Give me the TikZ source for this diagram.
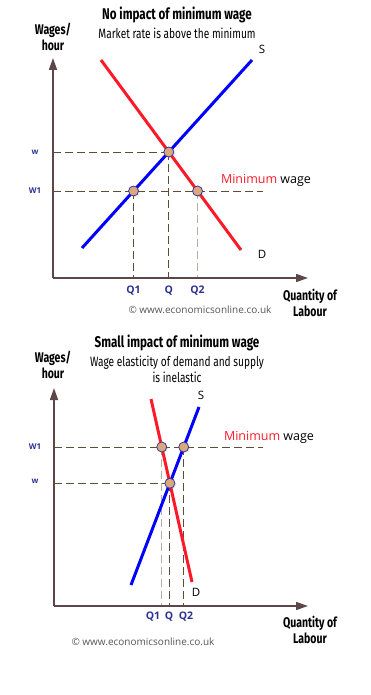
\documentclass[tikz,border=0pt]{standalone}
\usepackage{fontspec}
\setmainfont{Open Sans}
\newfontfamily\condfont[FakeStretch=0.75]{Fira Sans}
\usetikzlibrary{arrows.meta,shadows}
\definecolor{axiscol}{RGB}{92,70,72}
\definecolor{guidecol}{RGB}{95,75,55}
\definecolor{qcol}{RGB}{46,49,146}
\definecolor{dotfill}{RGB}{219,168,120}
\definecolor{dotedge}{RGB}{55,55,165}
\definecolor{supplycol}{RGB}{0,0,255}
\definecolor{demandcol}{RGB}{255,25,40}
\definecolor{webcol}{RGB}{85,85,85}
\tikzset{
  axis/.style={draw=axiscol,line width=1.6pt,-{Triangle[length=12pt,width=8pt]}},
  guide/.style={draw=guidecol,line width=0.9pt,dash pattern=on 8pt off 4pt},
  faintguide/.style={guide,draw=guidecol!45},
  supply/.style={draw=supplycol,line width=3pt},
  demand/.style={draw=demandcol,line width=3pt},
  dot/.style={circle,draw=dotedge,fill=dotfill,line width=0.8pt,minimum size=10pt,inner sep=0pt,
    drop shadow={opacity=0.18,shadow xshift=1.2pt,shadow yshift=-1.2pt}},
  headline/.style={font=\condfont\bfseries\fontsize{15.5}{17}\selectfont},
  subline/.style={font=\condfont\fontsize{13.5}{16}\selectfont,align=center},
  axlabel/.style={font=\condfont\bfseries\fontsize{14}{15.5}\selectfont,align=center},
  curvelabel/.style={font=\fontsize{11.5}{13}\selectfont},
  minlabel/.style={font=\fontsize{12.5}{14}\selectfont},
  qlabel/.style={font=\bfseries\fontsize{10.5}{12}\selectfont,text=qcol},
  wlabel/.style={font=\bfseries\fontsize{8}{9}\selectfont,text=qcol},
  weblabel/.style={font=\fontsize{10}{12}\selectfont,text=webcol}
}

\begin{document}
\begin{tikzpicture}[x=1pt,y=-1pt]
    \useasboundingbox (0,0) rectangle (371,695);
    % top chart
    \node[headline] (title1) at (177,15) {No impact of minimum wage};
    \node[subline] (sub1) at (177,33) {Market rate is above the minimum};
    \node[axlabel] (wages1) at (53,37) {Wages/\\hour};
    \coordinate (o1) at (53,278);
    \coordinate (ytop1) at (53,58);
    \coordinate (xend1) at (308,278);
    \coordinate (s1a) at (82,248);
    \coordinate (s1b) at (252,60);
    \coordinate (d1a) at (101,60);
    \coordinate (d1b) at (241,250);
    \coordinate (m1a) at (53,191);
    \coordinate (m1b) at (263,191);
    \coordinate (e1) at (intersection of s1a--s1b and d1a--d1b);
    \coordinate (lo1) at (intersection of s1a--s1b and m1a--m1b);
    \coordinate (hi1) at (intersection of d1a--d1b and m1a--m1b);
    \draw[guide] (m1a) -- (m1b);
    \draw[guide] (o1 |- e1) -- (e1);
    \draw[guide] (e1) -- (e1 |- o1);
    \draw[guide] (lo1) -- (lo1 |- o1);
    \draw[faintguide] (hi1) -- (hi1 |- o1);
    \draw[axis] (o1) -- (ytop1);
    \draw[axis] (o1) -- (xend1);
    \draw[supply] (s1a) -- (s1b);
    \draw[demand] (d1a) -- (d1b);
    \node[dot] (pe1) at (e1) {};
    \node[dot] (plo1) at (lo1) {};
    \node[dot] (phi1) at (hi1) {};
    \node[curvelabel] (slab1) at (262,49) {S};
    \node[curvelabel] (dlab1) at (262,254) {D};
    \node[minlabel] (min1) at (266,180) {\textcolor{demandcol}{Minimum} wage};
    \node[wlabel] (w1) at (35,152) {w};
    \node[wlabel] (ww1) at (35,191) {W1};
    \node[qlabel] (q11) at (lo1 |- 0,291) {Q1};
    \node[qlabel] (q1) at (e1 |- 0,291) {Q};
    \node[qlabel] (q21) at (hi1 |- 0,291) {Q2};
    \node[axlabel] (qty1) at (310,303) {Quantity of\\Labour};
    \node[weblabel] (web1) at (200,310) {\textcopyright{} www.economicsonline.co.uk};
    % bottom chart
    \node[headline] (title2) at (177,343) {Small impact of minimum wage};
    \node[subline] (sub2) at (177,369) {Wage elasticity of demand and supply\\is inelastic};
    \node[axlabel] (wages2) at (53,365) {Wages/\\hour};
    \coordinate (o2) at (54,606);
    \coordinate (ytop2) at (54,388);
    \coordinate (xend2) at (308,606);
    \coordinate (s2a) at (131,585);
    \coordinate (s2b) at (199,407);
    \coordinate (d2a) at (151,399);
    \coordinate (d2b) at (192,582);
    \coordinate (m2a) at (54,447);
    \coordinate (m2b) at (263,447);
    \coordinate (e2) at (intersection of s2a--s2b and d2a--d2b);
    \coordinate (lo2) at (intersection of d2a--d2b and m2a--m2b);
    \coordinate (hi2) at (intersection of s2a--s2b and m2a--m2b);
    \draw[guide] (m2a) -- (m2b);
    \draw[guide] (o2 |- e2) -- (e2);
    \draw[guide] (e2) -- (e2 |- o2);
    \draw[faintguide] (lo2) -- (lo2 |- o2);
    \draw[guide] (hi2) -- (hi2 |- o2);
    \draw[axis] (o2) -- (ytop2);
    \draw[axis] (o2) -- (xend2);
    \draw[supply] (s2a) -- (s2b);
    \draw[demand] (d2a) -- (d2b);
    \node[dot] (pe2) at (e2) {};
    \node[dot] (plo2) at (lo2) {};
    \node[dot] (phi2) at (hi2) {};
    \node[curvelabel] (slab2) at (201,395) {S};
    \node[curvelabel] (dlab2) at (196,592) {D};
    \node[minlabel] (min2) at (269,437) {\textcolor{demandcol}{Minimum} wage};
    \node[wlabel] (ww2) at (35,447) {W1};
    \node[wlabel] (w2) at (35,481) {w};
    \node[qlabel] (q12) at (153,617) {Q1};
    \node[qlabel] (q2) at (169,617) {Q};
    \node[qlabel] (q22) at (186,617) {Q2};
    \node[axlabel] (qty2) at (310,630) {Quantity of\\Labour};
    \node[weblabel] (web2) at (143,642) {\textcopyright{} www.economicsonline.co.uk};
\end{tikzpicture}
\end{document}
